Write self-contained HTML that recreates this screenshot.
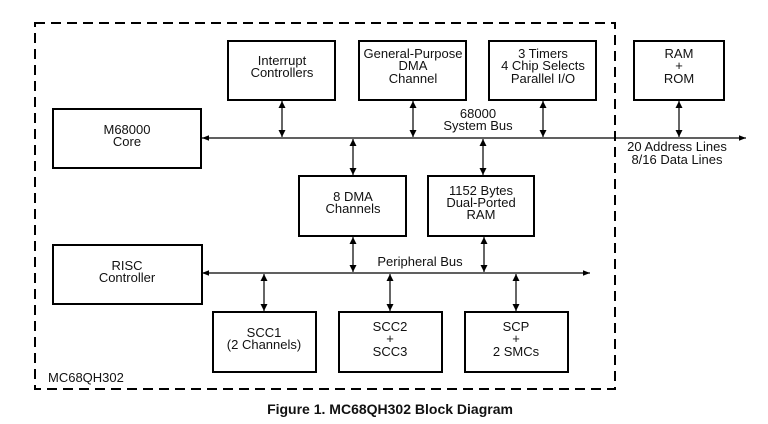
<!DOCTYPE html>
<html><head><style>
body{margin:0;background:#fff;}
svg{display:block;font-family:"Liberation Sans",Arial,sans-serif;}
text{font-size:13px;fill:#111;text-anchor:middle;}
</style></head><body>
<svg width="768" height="424" viewBox="0 0 768 424">
<defs>
<marker id="a" viewBox="0 0 10 10" refX="10" refY="5" markerWidth="10" markerHeight="7" markerUnits="userSpaceOnUse" orient="auto-start-reverse"><path d="M0,0 L10,5 L0,10 z" fill="#000"/></marker>
<marker id="b" viewBox="0 0 10 10" refX="10" refY="5" markerWidth="15" markerHeight="7" markerUnits="userSpaceOnUse" orient="auto-start-reverse"><path d="M0,1 L10,5 L0,9 z" fill="#000"/></marker>
</defs>
<rect x="35" y="23" width="580" height="366" fill="none" stroke="#000" stroke-width="2" stroke-dasharray="10,6"/>
<g fill="none" stroke="#000" stroke-width="2">
<rect x="228" y="41" width="107" height="59"/>
<rect x="359" y="41" width="107" height="59"/>
<rect x="489" y="41" width="107" height="59"/>
<rect x="634" y="41" width="90" height="59"/>
<rect x="53" y="109" width="148" height="59"/>
<rect x="299" y="176" width="107" height="60"/>
<rect x="428" y="176" width="106" height="60"/>
<rect x="53" y="245" width="149" height="59"/>
<rect x="213" y="312" width="103" height="60"/>
<rect x="339" y="312" width="103" height="60"/>
<rect x="465" y="312" width="103" height="60"/>
</g>
<g stroke="#000" stroke-width="1.2" fill="none">
<line x1="202" y1="138" x2="746" y2="138" marker-start="url(#b)" marker-end="url(#b)"/>
<line x1="202" y1="273" x2="590" y2="273" marker-start="url(#b)" marker-end="url(#b)"/>
<g marker-start="url(#a)" marker-end="url(#a)">
<line x1="282" y1="101" x2="282" y2="137"/>
<line x1="413" y1="101" x2="413" y2="137"/>
<line x1="543" y1="101" x2="543" y2="137"/>
<line x1="679" y1="101" x2="679" y2="137"/>
<line x1="353" y1="139" x2="353" y2="175"/>
<line x1="483" y1="139" x2="483" y2="175"/>
<line x1="353" y1="237" x2="353" y2="272"/>
<line x1="484" y1="237" x2="484" y2="272"/>
<line x1="264" y1="274" x2="264" y2="311"/>
<line x1="390" y1="274" x2="390" y2="311"/>
<line x1="516" y1="274" x2="516" y2="311"/>
</g>
</g>
<text x="282" y="65">Interrupt</text><text x="282" y="77">Controllers</text>
<text x="413" y="58">General-Purpose</text><text x="413" y="70">DMA</text><text x="413" y="83">Channel</text>
<text x="543" y="58">3 Timers</text><text x="543" y="70">4 Chip Selects</text><text x="543" y="83">Parallel I/O</text>
<text x="679" y="58">RAM</text><text x="679" y="70">+</text><text x="679" y="83">ROM</text>
<text x="127" y="134">M68000</text><text x="127" y="146">Core</text>
<text x="478" y="118">68000</text><text x="478" y="130">System Bus</text>
<text x="677" y="151">20 Address Lines</text><text x="677" y="164">8/16 Data Lines</text>
<text x="353" y="201">8 DMA</text><text x="353" y="213">Channels</text>
<text x="481" y="195">1152 Bytes</text><text x="481" y="207">Dual-Ported</text><text x="481" y="219">RAM</text>
<text x="127" y="270">RISC</text><text x="127" y="282">Controller</text>
<text x="420" y="266">Peripheral Bus</text>
<text x="264" y="337">SCC1</text><text x="264" y="349">(2 Channels)</text>
<text x="390" y="331">SCC2</text><text x="390" y="343">+</text><text x="390" y="356">SCC3</text>
<text x="516" y="331">SCP</text><text x="516" y="343">+</text><text x="516" y="356">2 SMCs</text>
<text x="48" y="382" style="text-anchor:start">MC68QH302</text>
<text x="390" y="414" style="font-weight:bold;font-size:14px">Figure 1. MC68QH302 Block Diagram</text>
</svg>
</body></html>
